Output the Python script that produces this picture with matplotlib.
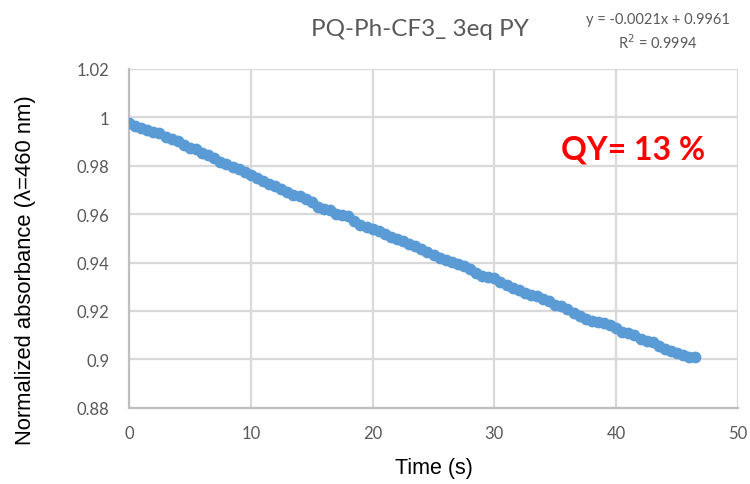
import matplotlib
matplotlib.use("Agg")
import matplotlib.pyplot as plt

# time (s) and normalized absorbance
time_s = [0.0, 0.5, 1.0, 1.5, 2.0, 2.5, 3.0, 3.5, 4.0, 4.5,
          5.0, 5.5, 6.0, 6.5, 7.0, 7.5, 8.0, 8.5, 9.0, 9.5,
          10.0, 10.5, 11.0, 11.5, 12.0, 12.5, 13.0, 13.5, 14.0, 14.5,
          15.0, 15.5, 16.0, 16.5, 17.0, 17.5, 18.0, 18.5, 19.0, 19.5,
          20.0, 20.5, 21.0, 21.5, 22.0, 22.5, 23.0, 23.5, 24.0, 24.5,
          25.0, 25.5, 26.0, 26.5, 27.0, 27.5, 28.0, 28.5, 29.0, 29.5,
          30.0, 30.5, 31.0, 31.5, 32.0, 32.5, 33.0, 33.5, 34.0, 34.5,
          35.0, 35.5, 36.0, 36.5, 37.0, 37.5, 38.0, 38.5, 39.0, 39.5,
          40.0, 40.5, 41.0, 41.5, 42.0, 42.5, 43.0, 43.5, 44.0, 44.5,
          45.0, 45.5, 46.0, 46.5]
absorbance = [0.9978, 0.9962, 0.9955, 0.9948, 0.9940, 0.9936, 0.9918, 0.9912, 0.9900, 0.9885,
              0.9875, 0.9868, 0.9852, 0.9843, 0.9830, 0.9815, 0.9806, 0.9795, 0.9787, 0.9775,
              0.9760, 0.9748, 0.9738, 0.9726, 0.9716, 0.9703, 0.9690, 0.9681, 0.9676, 0.9664,
              0.9650, 0.9628, 0.9622, 0.9615, 0.9602, 0.9596, 0.9592, 0.9570, 0.9556, 0.9548,
              0.9540, 0.9530, 0.9518, 0.9506, 0.9498, 0.9488, 0.9477, 0.9468, 0.9455, 0.9442,
              0.9432, 0.9420, 0.9412, 0.9402, 0.9395, 0.9386, 0.9375, 0.9356, 0.9345, 0.9340,
              0.9336, 0.9320, 0.9308, 0.9296, 0.9285, 0.9275, 0.9266, 0.9260, 0.9250, 0.9240,
              0.9226, 0.9222, 0.9210, 0.9190, 0.9180, 0.9168, 0.9160, 0.9155, 0.9150, 0.9143,
              0.9128, 0.9112, 0.9108, 0.9100, 0.9086, 0.9078, 0.9070, 0.9055, 0.9042, 0.9035,
              0.9028, 0.9020, 0.9012, 0.9008]

x_ticks = [0, 10, 20, 30, 40, 50]
y_ticks = [0.88, 0.9, 0.92, 0.94, 0.96, 0.98, 1, 1.02]
y_tick_labels = ["0.88", "0.9", "0.92", "0.94", "0.96", "0.98", "1", "1.02"]

title = "PQ-Ph-CF3_ 3eq PY"
fit_text = "y = -0.0021x + 0.9961\nR$^2$ = 0.9994"
qy_text = "QY= 13 %"

fig = plt.figure(figsize=(7.5, 4.85), dpi=100)
ax = fig.add_axes([0.172, 0.157, 0.812, 0.699])

ax.plot(time_s, absorbance, "o", color="#5B9BD5", markersize=8.5,
        markeredgewidth=0, zorder=3)

ax.set_xlim(0, 50)
ax.set_ylim(0.88, 1.02)
ax.set_xticks(x_ticks)
ax.set_yticks(y_ticks)
ax.set_yticklabels(y_tick_labels)
ax.tick_params(length=0, labelsize=12, colors="#595959")
ax.tick_params(axis="y", pad=14)
ax.tick_params(axis="x", pad=12)
for lab in ax.get_xticklabels() + ax.get_yticklabels():
    lab.set_family("Lato")

ax.grid(True, color="#d9d9d9", linewidth=1.6)
ax.set_axisbelow(True)
for side in ["top", "right"]:
    ax.spines[side].set_visible(False)
for side in ["left", "bottom"]:
    ax.spines[side].set_color("#bfbfbf")
    ax.spines[side].set_linewidth(1.6)

ax.set_xlabel("Time (s)", fontsize=15.5, family="Liberation Sans", labelpad=12)
ax.set_ylabel("Normalized absorbance (λ=460 nm)", fontsize=15.8,
              family="Liberation Sans")
ax.yaxis.set_label_coords(-0.153, 0.41)

fig.text(0.56, 0.94, title, fontsize=17.5, color="#595959", family="Lato",
         ha="center", va="center")
fig.text(0.877, 0.933, fit_text, fontsize=10.5, color="#595959", family="Lato",
         ha="center", va="center", linespacing=1.35)
ax.text(0.844, 0.69, qy_text, transform=fig.transFigure, fontsize=23,
        color="#ff0000", fontweight="bold", family="Lato",
        ha="center", va="center")

fig.savefig("out.png", dpi=100)
